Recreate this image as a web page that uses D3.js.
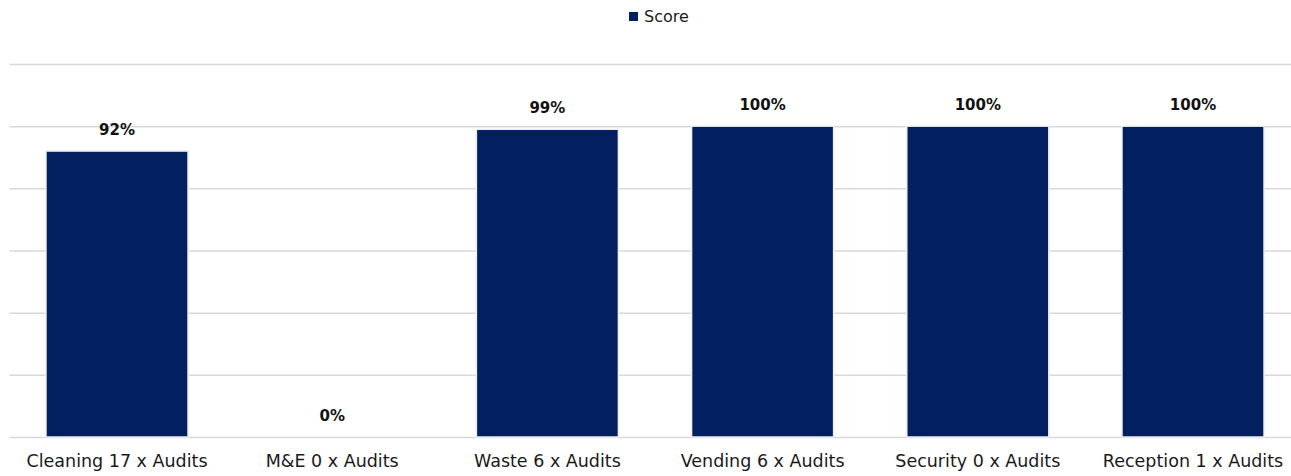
<!DOCTYPE html>
<html>
<head>
<meta charset="utf-8">
<script src="https://cdn.jsdelivr.net/npm/d3@7"></script>
<style>
  html, body { margin: 0; padding: 0; background: #fff; }
  svg { display: block; }
</style>
</head>
<body>
<div id="chart"></div>
<script>
// Audit scores by service area
const categories = [
  "Cleaning 17 x Audits",
  "M&E 0 x Audits",
  "Waste 6 x Audits",
  "Vending 6 x Audits",
  "Security 0 x Audits",
  "Reception 1 x Audits"
];
const scores = [92, 0, 99, 100, 100, 100];
const yTicks = [0, 20, 40, 60, 80, 100, 120];
const seriesName = "Score";

const W = 1291, H = 476;
const margin = { top: 64, left: 9.4, right: -9.6, bottom: 39 };
const fontFamily = "'DejaVu Sans', Verdana, sans-serif";
const barColor = "#022060";

const svg = d3.select("#chart").append("svg")
  .attr("width", W).attr("height", H);

const x = d3.scaleBand()
  .domain(categories)
  .range([margin.left, W - margin.right])
  .paddingInner(0.34)
  .paddingOuter(0.17);

const y = d3.scaleLinear()
  .domain([0, 120])
  .range([H - margin.bottom, margin.top]);

// horizontal gridlines
const grid = svg.append("g")
  .attr("transform", `translate(${margin.left},0)`)
  .call(d3.axisLeft(y).tickValues(yTicks).tickSize(-(W - margin.left - margin.right)).tickFormat(""));
grid.select(".domain").remove();
grid.selectAll(".tick line").attr("stroke", "#d9d9d9").attr("stroke-width", 1.5);

// bars
svg.append("g").selectAll("rect")
  .data(scores)
  .join("rect")
  .attr("x", (d, i) => x(categories[i]))
  .attr("y", d => y(d))
  .attr("width", x.bandwidth())
  .attr("height", d => y(0) - y(d))
  .attr("fill", barColor)
  .attr("stroke", "#eeeeee")
  .attr("stroke-width", 1.5);

// value labels
svg.append("g").selectAll("text")
  .data(scores)
  .join("text")
  .attr("x", (d, i) => x(categories[i]) + x.bandwidth() / 2)
  .attr("y", d => y(d) - 16)
  .attr("text-anchor", "middle")
  .attr("font-family", fontFamily)
  .attr("font-weight", "bold")
  .attr("font-size", 15)
  .attr("fill", "#111")
  .text(d => d3.format(".0f")(d) + "%");

// category axis labels
const xAxis = svg.append("g")
  .attr("transform", `translate(0,${H - margin.bottom})`)
  .call(d3.axisBottom(x).tickSize(0).tickPadding(17.5));
xAxis.select(".domain").remove();
xAxis.selectAll("text")
  .attr("font-family", fontFamily)
  .attr("font-size", 17.5)
  .attr("fill", "#1a1a1a");

// legend
const legend = svg.append("g").attr("transform", "translate(629,12)");
legend.append("rect").attr("width", 9).attr("height", 9).attr("fill", barColor);
legend.append("text")
  .attr("x", 15).attr("y", 10)
  .attr("font-family", fontFamily)
  .attr("font-size", 16)
  .attr("fill", "#1a1a1a")
  .text(seriesName);
</script>
</body>
</html>
